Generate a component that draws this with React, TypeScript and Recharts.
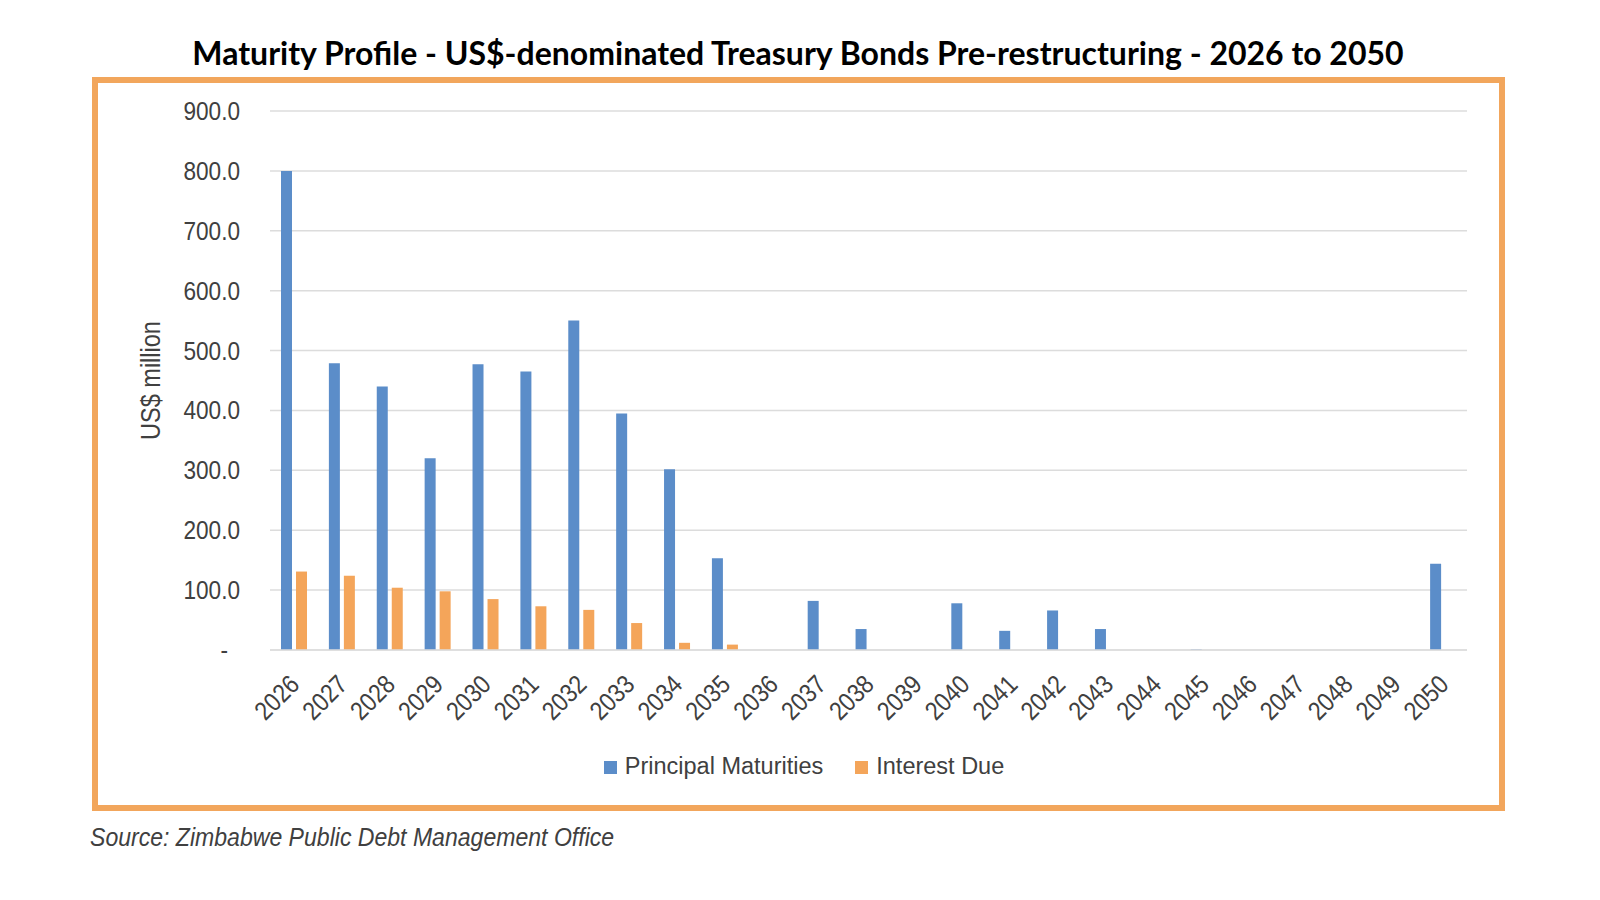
import { Bar, BarChart, CartesianGrid, Label, Legend, XAxis, YAxis } from "recharts";

const years = [
  "2026", "2027", "2028", "2029", "2030", "2031", "2032", "2033", "2034",
  "2035", "2036", "2037", "2038", "2039", "2040", "2041", "2042", "2043",
  "2044", "2045", "2046", "2047", "2048", "2049", "2050",
];
const principal = [
  800, 479, 440, 320, 477, 465, 550, 395, 302, 153, 0, 82, 35, 0, 78, 32, 66,
  35, 0, 1, 0, 0, 0, 0, 144,
];
const interest = [
  131, 124, 104, 98, 85, 73, 67, 45, 12, 9, 0, 0, 0, 0, 0, 0, 0, 0, 0, 0, 0, 0,
  0, 0, 0,
];
const yTicks = [0, 100, 200, 300, 400, 500, 600, 700, 800, 900];

const data = years.map((year, i) => ({
  year,
  principal: principal[i],
  interest: interest[i],
}));

const FONT = '"Liberation Sans", Arial, sans-serif';
const TEXT = "#404040";
const BLUE = "#5b8dc9";
const ORANGE = "#f4a55a";
// the original uses a narrow font, so text is squeezed horizontally
const NARROW = 0.87;

function YearTick({ x, y, payload }: any) {
  return (
    <g transform={`translate(${x + 7},${y + 34}) rotate(-45) scale(${NARROW},1)`}>
      <text x={0} y={0} textAnchor="end" fill={TEXT} fontSize={26} fontFamily={FONT}>
        {payload.value}
      </text>
    </g>
  );
}

function ValueTick({ x, y, payload }: any) {
  // accounting format: zero shows as a dash, padded away from the axis
  const zero = payload.value === 0;
  const label = zero ? "-" : Number(payload.value).toFixed(1);
  return (
    <g transform={`translate(${zero ? x - 12 : x},${y}) scale(${NARROW},1)`}>
      <text x={0} y={0} dy={9} textAnchor="end" fill={TEXT} fontSize={26} fontFamily={FONT}>
        {label}
      </text>
    </g>
  );
}

function AxisTitle({ viewBox }: any) {
  const { x, y, height } = viewBox;
  return (
    <g transform={`translate(${x + 35},${y + height / 2}) rotate(-90) scale(${NARROW},1)`}>
      <text x={0} y={0} textAnchor="middle" fill={TEXT} fontSize={27} fontFamily={FONT}>
        US$ million
      </text>
    </g>
  );
}

export default function App() {
  return (
    <div
      style={{
        position: "absolute",
        left: 0,
        top: 0,
        width: 1600,
        height: 900,
        background: "#fff",
        overflow: "hidden",
      }}
    >
      <div
        style={{
          position: "absolute",
          left: 0,
          top: 33,
          width: 1596,
          textAlign: "center",
          fontFamily: "Lato, sans-serif",
          fontWeight: 700,
          fontSize: 32,
          lineHeight: "40px",
          color: "#000",
        }}
      >
        Maturity Profile - US$-denominated Treasury Bonds Pre-restructuring - 2026 to 2050
      </div>
      <div
        style={{
          position: "absolute",
          left: 92,
          top: 77,
          width: 1413,
          height: 734,
          border: "6px solid #f2a65c",
          boxSizing: "border-box",
        }}
      />
      <div style={{ position: "absolute", left: 0, top: 0 }}>
        <BarChart
          width={1600}
          height={900}
          data={data}
          margin={{ top: 111, right: 133, left: 125, bottom: 120 }}
          barGap={4}
        >
          <CartesianGrid stroke="#dcdcdc" strokeWidth={1.5} vertical={false} />
          <XAxis
            dataKey="year"
            tick={<YearTick />}
            tickLine={false}
            tickSize={0}
            axisLine={{ stroke: "#dcdcdc", strokeWidth: 1.5 }}
            interval={0}
            height={103}
          />
          <YAxis
            domain={[0, 900]}
            ticks={yTicks}
            width={145}
            tickSize={0}
            tickMargin={30}
            axisLine={false}
            tick={<ValueTick />}
          >
            <Label content={<AxisTitle />} />
          </YAxis>
          <Legend
            verticalAlign="bottom"
            align="center"
            iconType="square"
            iconSize={13}
            itemSorter={null as any}
            wrapperStyle={{ fontFamily: FONT, fontSize: 23.5, left: 149 }}
            formatter={(value: string) => (
              <span style={{ color: TEXT, marginLeft: 4, marginRight: 22 }}>{value}</span>
            )}
          />
          <Bar
            dataKey="principal"
            name="Principal Maturities"
            fill={BLUE}
            barSize={11}
            isAnimationActive={false}
          />
          <Bar
            dataKey="interest"
            name="Interest Due"
            fill={ORANGE}
            barSize={11}
            isAnimationActive={false}
          />
        </BarChart>
      </div>
      <div
        style={{
          position: "absolute",
          left: 90,
          top: 821,
          fontFamily: FONT,
          fontStyle: "italic",
          fontSize: 26.5,
          lineHeight: "32px",
          color: TEXT,
          whiteSpace: "nowrap",
          transform: `scaleX(${NARROW})`,
          transformOrigin: "left center",
        }}
      >
        Source: Zimbabwe Public Debt Management Office
      </div>
    </div>
  );
}
